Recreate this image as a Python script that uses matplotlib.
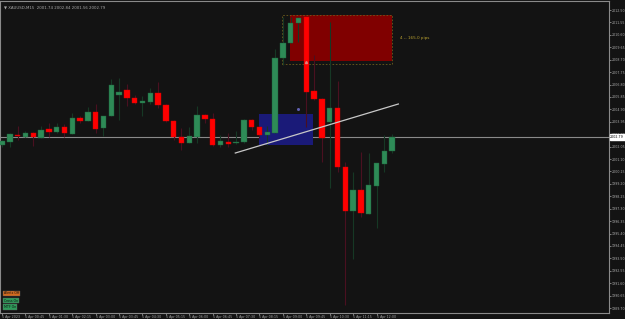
import matplotlib
matplotlib.use("Agg")
import numpy as np
import matplotlib.pyplot as plt
from matplotlib.patches import Rectangle

# candle data (M15 bars)
opens = [2002.20, 2002.40, 2002.96, 2002.81, 2003.09, 2002.73, 2003.37, 2003.17, 2003.53, 2003.04,
         2004.24, 2003.99, 2004.67, 2003.47, 2004.39, 2006.00, 2006.38, 2005.77, 2005.39, 2005.46,
         2006.15, 2005.23, 2004.01, 2002.76, 2002.35, 2002.81, 2004.49, 2004.19, 2002.20, 2002.43,
         2002.30, 2002.40, 2004.09, 2003.57, 2002.96, 2003.12, 2008.85, 2009.95, 2011.48, 2011.94,
         2006.30, 2005.69, 2003.96, 2005.00, 2000.49, 1997.15, 1998.73, 1996.87, 1999.06, 2000.72,
         2001.74]
highs = [2002.56, 2003.09, 2003.63, 2003.25, 2003.17, 2003.63, 2003.88, 2003.83, 2003.78, 2004.62,
         2004.39, 2005.08, 2005.31, 2004.39, 2007.22, 2007.30, 2006.84, 2006.00, 2005.92, 2006.53,
         2006.99, 2005.31, 2004.09, 2003.47, 2003.57, 2005.16, 2004.55, 2004.62, 2002.96, 2003.12,
         2003.27, 2004.19, 2004.14, 2003.63, 2003.63, 2009.49, 2011.97, 2011.97, 2011.94, 2011.97,
         2009.06, 2005.75, 2011.61, 2007.07, 2000.90, 2000.13, 2001.64, 2001.56, 2000.80, 2002.94,
         2003.02]
lows = [2002.02, 2002.02, 2002.56, 2002.76, 2002.10, 2002.73, 2002.81, 2003.07, 2002.76, 2003.04,
        2003.83, 2003.99, 2003.09, 2002.86, 2004.39, 2004.09, 2005.16, 2005.31, 2004.39, 2005.31,
        2005.00, 2003.96, 2002.56, 2001.79, 2002.30, 2002.33, 2003.83, 2002.10, 2002.05, 2002.05,
        2002.25, 2002.30, 2003.32, 2002.73, 2002.17, 2003.12, 2008.29, 2009.95, 2010.07, 2003.53,
        2005.62, 2000.87, 1998.88, 2000.13, 1989.93, 1993.45, 1996.67, 1996.87, 1995.85, 2000.13,
        2001.56]
closes = [2002.46, 2003.02, 2002.86, 2003.12, 2002.76, 2003.32, 2003.15, 2003.53, 2003.09, 2004.24,
          2003.99, 2004.67, 2003.42, 2004.39, 2006.76, 2006.23, 2005.77, 2005.39, 2005.54, 2006.15,
          2005.23, 2004.01, 2002.76, 2002.30, 2002.86, 2004.49, 2004.14, 2002.20, 2002.50, 2002.25,
          2002.40, 2004.09, 2003.57, 2002.91, 2003.15, 2008.85, 2009.95, 2011.53, 2011.89, 2006.25,
          2005.69, 2002.69, 2005.00, 2000.51, 1997.13, 1998.73, 1996.95, 1999.11, 2000.80, 2001.72,
          2002.79]

price_ticks = [2012.50, 2011.55, 2010.60, 2009.65, 2008.70, 2007.75, 2006.80, 2005.85, 2004.90,
               2003.95, 2003.00, 2002.05, 2001.10, 2000.15, 1999.20, 1998.25, 1997.30, 1996.35,
               1995.40, 1994.45, 1993.50, 1992.55, 1991.60, 1990.65, 1989.70]
time_ticks = list(range(0, 49, 3))
time_labels = ["5 Apr 2023", "5 Apr 00:45", "5 Apr 01:30", "5 Apr 02:15", "5 Apr 03:00",
               "5 Apr 03:45", "5 Apr 04:30", "5 Apr 05:15", "5 Apr 06:00", "5 Apr 06:45",
               "5 Apr 07:30", "5 Apr 08:15", "5 Apr 09:00", "5 Apr 09:45", "5 Apr 10:30",
               "5 Apr 11:15", "5 Apr 12:00"]

# zones / objects (bar index, price)
demand_zone = (32.95, 39.87, 2002.17, 2004.55)
supply_zone = (36.9, 50.0, 2008.60, 2012.12)
supply_box = (35.9, 50.0, 2008.37, 2012.12)
trend = ([29.9, 50.8], [2001.56, 2005.31])
last_price = 2002.79

bg = "#131313"
up_col, dn_col = "#2e8b57", "#ff0000"
up_wick, dn_wick = "#163825", "#4a1020"
txt_col = "#a8a8a8"

fig = plt.figure(figsize=(6.25, 3.19), dpi=100, facecolor=bg)
ax = fig.add_axes([0 / 625, 6 / 319, 609 / 625, 312 / 319], facecolor=bg)

ax.axhline(last_price, color="#8a8a8a", lw=0.8, zorder=1)

x0, x1, y0, y1 = demand_zone
ax.add_patch(Rectangle((x0, y0), x1 - x0, y1 - y0, color="#1a1a78", lw=0, zorder=2))
x0, x1, y0, y1 = supply_zone
ax.add_patch(Rectangle((x0, y0), x1 - x0, y1 - y0, color="#800000", lw=0, zorder=2))
x0, x1, y0, y1 = supply_box
ax.add_patch(Rectangle((x0, y0), x1 - x0, y1 - y0, fill=False, ec="#6e5c1c", lw=0.6,
                       ls=(0, (2, 2)), zorder=2))
ax.text(51.0, 2010.36, "4 -- 165.0 pips", color="#b8a030", fontsize=3.0, va="center", zorder=5)

w = 0.7
for i in range(len(opens)):
    o, h, l, c = opens[i], highs[i], lows[i], closes[i]
    up = c >= o
    ax.plot([i, i], [l, h], color=up_wick if up else dn_wick, lw=0.8, zorder=3,
            solid_capstyle="butt")
    lo, hi = min(o, c), max(o, c)
    ax.add_patch(Rectangle((i - w / 2, lo), w, max(hi - lo, 0.04),
                           fc=up_col if up else dn_col,
                           ec="#1f5e3a" if up else "#d00000", lw=0.3, zorder=4))

ax.plot(trend[0], trend[1], color="#c8c8c8", lw=0.9, zorder=6)
ax.plot([38.9], [2008.5], marker="^", ms=1.5, color="#e08080", zorder=6)
ax.plot([37.9], [2004.9], marker="o", ms=1.2, color="#6060b0", zorder=6)

ax.set_xlim(-0.26, 77.8)
ax.set_ylim(1989.32, 2013.19)

ax.yaxis.tick_right()
ax.set_yticks(price_ticks)
ax.set_yticklabels([f"{p:.2f}" for p in price_ticks])
ax.set_xticks(time_ticks)
ax.set_xticklabels(time_labels)
plt.setp(ax.get_xticklabels(), ha="left")
ax.tick_params(colors=txt_col, labelsize=2.3, length=1.2, width=0.5, pad=0.5)
ax.tick_params(axis="y", pad=0.5)
for s in ax.spines.values():
    s.set_color("#8a8a8a")
    s.set_linewidth(0.8)

ax.text(1.002, (last_price - 1989.32) / (2013.19 - 1989.32), f"{last_price:.2f}",
        transform=ax.transAxes, fontsize=2.3, color="black", va="center", ha="left",
        bbox=dict(boxstyle="square,pad=0.2", fc="white", ec="white"), zorder=10, clip_on=False)

ax.text(0.006, 0.985, "\u25bc XAUUSD,M15  2001.74 2002.84 2001.56 2002.79", transform=ax.transAxes,
        fontsize=2.8, color=txt_col, va="top", ha="left")

buttons = [("Alerts Off", "#d2691e", 0.0625), ("Cross On", "#2e9b5a", 0.040), ("MTF On", "#2e9b5a", 0.019)]
for label, col, yy in buttons:
    ax.text(0.006, yy, label, transform=ax.transAxes, fontsize=2.3, color="#101010",
            va="center", ha="left",
            bbox=dict(boxstyle="square,pad=0.3", fc=col, ec="#606060", lw=0.3))

fig.savefig("out.png", dpi=100, facecolor=bg)
